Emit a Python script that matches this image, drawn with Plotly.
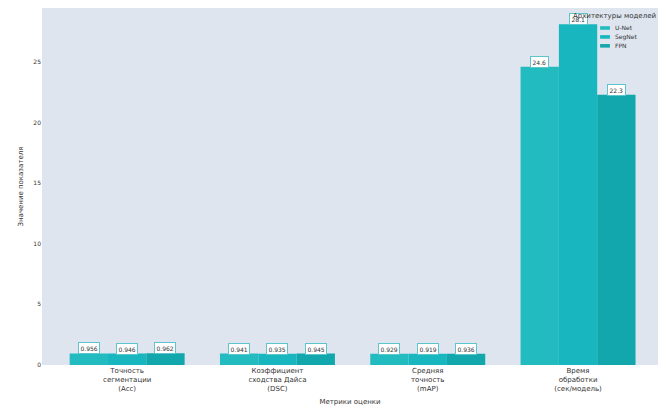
import plotly.graph_objects as go

categories = [
    "Точность<br>сегментации<br>(Acc)",
    "Коэффициент<br>сходства Дайса<br>(DSC)",
    "Средняя<br>точность<br>(mAP)",
    "Время<br>обработки<br>(сек/модель)",
]
models = ["U-Net", "SegNet", "FPN"]
unet = [0.956, 0.941, 0.929, 24.6]
segnet = [0.946, 0.935, 0.919, 28.1]
fpn = [0.962, 0.945, 0.936, 22.3]
label_texts = {
    "U-Net": ["0.956", "0.941", "0.929", "24.6"],
    "SegNet": ["0.946", "0.935", "0.919", "28.1"],
    "FPN": ["0.962", "0.945", "0.936", "22.3"],
}
legend_title = "Архитектуры моделей"
colors = ["#22bcc0", "#18b6be", "#12a7ac"]
series = [unet, segnet, fpn]

fig = go.Figure()
for name, vals, col in zip(models, series, colors):
    fig.add_trace(go.Bar(
        name=name, x=categories, y=vals, showlegend=False,
        marker=dict(color=col, line=dict(width=0)),
    ))

bargap = 0.235
bw = (1 - bargap) / len(models)
for j, (name, vals) in enumerate(zip(models, series)):
    off = (j - 1) * bw
    for i, v in enumerate(vals):
        fig.add_annotation(
            x=i + off, y=v, xref="x", yref="y",
            text=label_texts[name][i],
            showarrow=False, yanchor="middle", yshift=5,
            font=dict(size=6, color="#333333", family="DejaVu Sans"),
            bgcolor="white", bordercolor="#5cc6cc", borderwidth=1, borderpad=1.5,
        )

# compact legend (title + entries)
fig.add_annotation(
    x=0.859, y=0.978, xref="paper", yref="paper", xanchor="left", yanchor="middle",
    text=legend_title, showarrow=False,
    font=dict(size=7, color="#333333", family="DejaVu Sans"),
)
for k, (name, col) in enumerate(zip(models, colors)):
    yc = 0.944 - k * 0.025
    fig.add_shape(
        type="rect", xref="paper", yref="paper",
        x0=0.906, x1=0.922, y0=yc - 0.005, y1=yc + 0.005,
        fillcolor=col, line=dict(width=0),
    )
    fig.add_annotation(
        x=0.927, y=yc, xref="paper", yref="paper", xanchor="left", yanchor="middle",
        text=name, showarrow=False,
        font=dict(size=6, color="#333333", family="DejaVu Sans"),
    )

fig.update_layout(
    width=650, height=398,
    margin=dict(l=34, r=0, t=0, b=41),
    paper_bgcolor="white",
    plot_bgcolor="#dfe5ef",
    barmode="group", bargap=bargap, bargroupgap=0,
    font=dict(family="DejaVu Sans", size=7, color="#333333"),
    xaxis=dict(
        title=dict(text="Метрики оценки", font=dict(size=7), standoff=6),
        tickfont=dict(size=7), showgrid=False, zeroline=False,
        ticks="", range=[-0.5665, 3.532],
    ),
    yaxis=dict(
        title=dict(text="Значение показателя", font=dict(size=7), standoff=8),
        tickfont=dict(size=6), showgrid=False, zeroline=False,
        range=[0, 29.45], tickvals=[0, 5, 10, 15, 20, 25], ticks="",
    ),
    showlegend=False,
)

fig.write_html("out.html")
